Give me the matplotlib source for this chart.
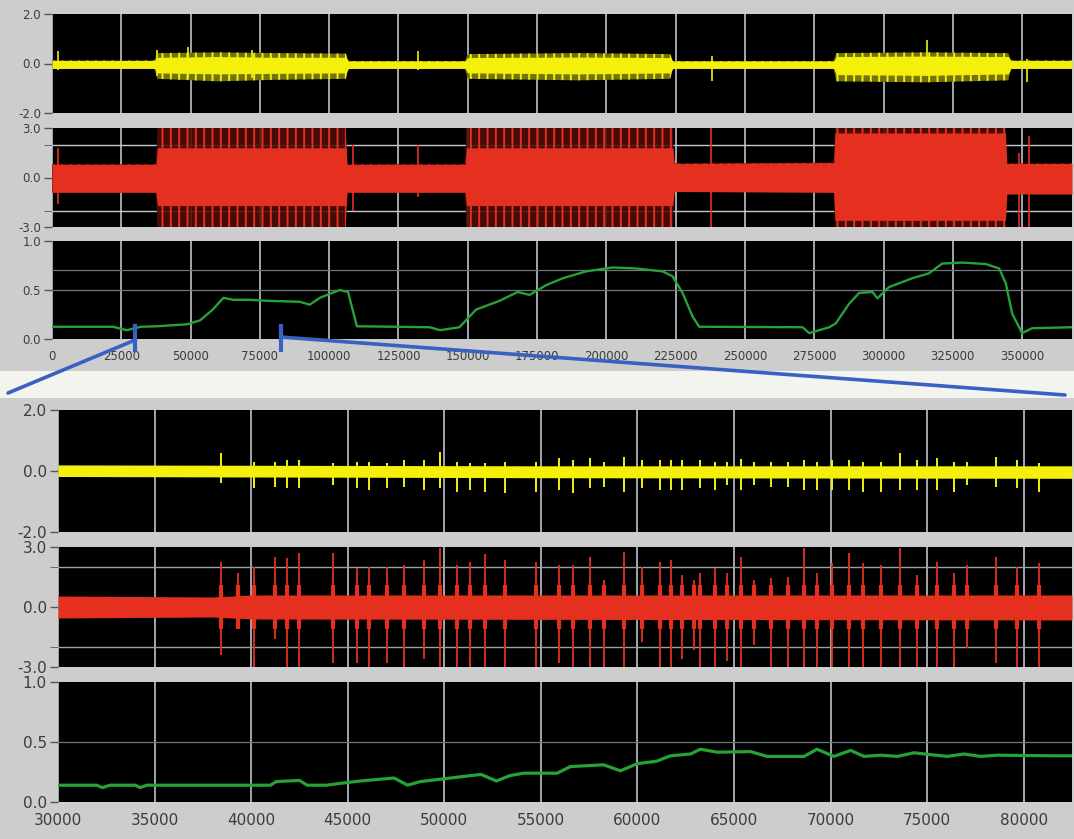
"""
Senal completa (arriba) y ampliacion de un tramo (abajo): tres trazas por grupo
"""

import matplotlib.pyplot as plt
from matplotlib.patches import Rectangle, ConnectionPatch
from matplotlib.transforms import blended_transform_factory

# ---- grupo superior: 0 .. 368000 ----
top_xticks = list(range(0, 350001, 25000))

# amarilla: envolvente exterior e interior (x, arriba, abajo)
yt_x = [0, 37000, 38000, 60000, 80000, 106000, 107000, 149000, 150000, 190000, 223000,
        224000, 282000, 283000, 315000, 345000, 346000, 368000]
yt_hi = [0.12, 0.12, 0.42, 0.45, 0.42, 0.40, 0.10, 0.10, 0.38, 0.42, 0.38,
         0.10, 0.10, 0.42, 0.45, 0.42, 0.12, 0.12]
yt_lo = [-0.2, -0.2, -0.62, -0.72, -0.66, -0.62, -0.2, -0.2, -0.62, -0.68, -0.62,
         -0.2, -0.2, -0.72, -0.76, -0.68, -0.2, -0.2]
yt_in_hi = [0.12, 0.12, 0.25, 0.28, 0.25, 0.25, 0.10, 0.10, 0.24, 0.26, 0.24,
            0.10, 0.10, 0.28, 0.30, 0.28, 0.12, 0.12]
yt_in_lo = [-0.2, -0.2, -0.38, -0.42, -0.40, -0.38, -0.2, -0.2, -0.38, -0.42, -0.38,
            -0.2, -0.2, -0.45, -0.48, -0.42, -0.2, -0.2]
yt_spk_x = [2300, 38000, 49000, 72000, 132000, 238000, 315700, 351700]
yt_spk_hi = [0.50, 0.53, 0.66, 0.53, 0.50, 0.30, 0.93, 0.20]
yt_spk_lo = [-0.25, -0.5, -0.6, -0.6, -0.25, -0.70, -0.5, -0.75]

# roja
rt_x = [0, 37500, 38000, 106000, 106500, 149000, 149500, 224000, 224500, 282000,
        282500, 344000, 344500, 368000]
rt_hi = [0.8, 0.8, 3.0, 3.0, 0.8, 0.8, 3.0, 3.0, 0.85, 0.9, 3.0, 3.0, 0.85, 0.85]
rt_lo = [-0.9, -0.9, -3.0, -3.0, -0.9, -0.9, -3.0, -3.0, -0.85, -0.9, -3.0, -3.0, -1.0, -1.0]
rt_in_hi = [0.8, 0.8, 1.8, 1.8, 0.8, 0.8, 1.8, 1.8, 0.85, 0.9, 2.7, 2.7, 0.85, 0.85]
rt_in_lo = [-0.9, -0.9, -1.7, -1.7, -0.9, -0.9, -1.7, -1.7, -0.85, -0.9, -2.6, -2.6, -1.0, -1.0]
rt_spk_x = [2000, 108500, 132000, 237700, 348800, 352400]
rt_spk_hi = [1.8, 2.0, 2.0, 3.0, 1.5, 2.5]
rt_spk_lo = [-1.6, -2.0, -1.2, -3.0, -3.0, -3.0]

# verde
gt_x = [0, 22000, 27000, 32000, 38000, 48700, 53400, 58000, 61800, 65400, 71400, 77500,
        89400, 93000, 96600, 103800, 106800, 110000, 136300, 140000, 147000, 153000,
        161500, 168000, 172300, 178300, 184300, 192700, 202300, 210700, 220300, 223900,
        227500, 231100, 233500, 270800, 273200, 280400, 282800, 287600, 291200, 296000,
        297800, 302000, 310400, 316400, 321200, 328400, 336900, 341700, 344100, 346400,
        350000, 353600, 368000]
gt_y = [0.125, 0.125, 0.09, 0.125, 0.13, 0.15, 0.19, 0.30, 0.42, 0.40, 0.40, 0.39,
        0.38, 0.35, 0.42, 0.50, 0.48, 0.13, 0.12, 0.09, 0.12, 0.30,
        0.39, 0.48, 0.45, 0.55, 0.62, 0.69, 0.73, 0.72, 0.69, 0.64,
        0.47, 0.23, 0.125, 0.12, 0.06, 0.12, 0.16, 0.36, 0.47, 0.48,
        0.415, 0.53, 0.62, 0.67, 0.77, 0.78, 0.765, 0.72, 0.57, 0.26,
        0.06, 0.11, 0.12]

# ---- grupo inferior: 30000 .. 82500 ----
bot_xticks = list(range(30000, 80001, 5000))

by_x = [30000, 55000, 82500]
by_hi = [0.20, 0.17, 0.17]
by_lo = [-0.18, -0.22, -0.24]
by_spk_x = [38430, 40150, 41240, 41850, 42490, 44230, 45470, 46080, 47030, 47890, 48930,
            49790, 50660, 51310, 52120, 53160, 54770, 55920, 56670, 57530, 58290, 59290,
            60240, 61190, 61740, 62310, 63260, 64000, 64650, 65370, 66030, 66890, 67790,
            68650, 69310, 70090, 70950, 71690, 72590, 73590, 74490, 75530, 76390, 77050,
            78550, 79670, 80790]
by_spk_hi = [0.60, 0.31, 0.31, 0.36, 0.36, 0.25, 0.31, 0.31, 0.25, 0.36, 0.36,
             0.63, 0.31, 0.25, 0.25, 0.31, 0.31, 0.42, 0.36, 0.42, 0.31, 0.47,
             0.36, 0.36, 0.36, 0.36, 0.36, 0.31, 0.31, 0.40, 0.31, 0.31, 0.31,
             0.36, 0.31, 0.36, 0.36, 0.31, 0.31, 0.60, 0.36, 0.42, 0.31, 0.31,
             0.47, 0.36, 0.25]
by_spk_lo = [-0.40, -0.57, -0.51, -0.57, -0.57, -0.46, -0.57, -0.62, -0.57, -0.51, -0.62,
             -0.57, -0.68, -0.62, -0.68, -0.73, -0.68, -0.62, -0.73, -0.57, -0.51, -0.68,
             -0.57, -0.62, -0.62, -0.62, -0.57, -0.62, -0.46, -0.62, -0.46, -0.51, -0.51,
             -0.62, -0.62, -0.62, -0.62, -0.68, -0.68, -0.62, -0.62, -0.62, -0.68, -0.46,
             -0.51, -0.57, -0.68]

br_x = [30000, 38000, 40000, 82500]
br_hi = [0.55, 0.5, 0.6, 0.6]
br_lo = [-0.55, -0.5, -0.6, -0.65]
br_spk_x = [38430, 39340, 40150, 41240, 41850, 42490, 44230, 45470, 46080, 47030, 47890,
            48930, 49790, 50660, 51310, 52120, 53160, 54770, 55920, 56670, 57530, 58290,
            59290, 60240, 61190, 61740, 62310, 62920, 63260, 64000, 64650, 65370, 66030,
            66890, 67790, 68650, 69310, 70090, 70950, 71690, 72590, 73590, 74490, 75530,
            76390, 77050, 78550, 79670, 80790]
br_spk_hi = [2.27, 1.68, 2.02, 2.52, 2.43, 2.68, 2.68, 1.93, 2.02, 2.02, 2.10,
             2.35, 2.93, 2.10, 2.27, 2.63, 2.35, 2.27, 2.10, 2.10, 2.52, 1.35,
             2.77, 2.02, 2.27, 2.35, 1.60, 1.35, 1.68, 1.93, 1.68, 2.52, 1.35,
             1.43, 1.52, 2.93, 1.68, 2.18, 2.68, 2.18, 2.10, 2.93, 1.60, 2.27,
             1.68, 2.10, 2.52, 2.02, 2.18]
br_spk_lo = [-2.4, -0.9, -3.0, -1.6, -3.0, -3.0, -2.8, -2.8, -3.0, -2.8, -3.0,
             -2.6, -3.0, -3.0, -3.0, -3.0, -3.0, -3.0, -2.8, -3.0, -3.0, -3.0,
             -3.0, -1.75, -3.0, -3.0, -2.6, -2.15, -3.0, -3.0, -2.7, -3.0, -1.9,
             -3.0, -3.0, -3.0, -3.0, -3.0, -3.0, -3.0, -3.0, -3.0, -3.0, -3.0,
             -3.0, -2.05, -2.8, -3.0, -3.0]

bg_x = [30000, 32000, 32300, 32700, 34000, 34250, 34600, 41000, 41300, 42500, 42900,
        43900, 44600, 45650, 47400, 48100, 48750, 49800, 51900, 52700, 53400, 54100,
        55840, 56530, 58250, 59120, 60000, 61000, 61700, 62750, 63260, 64130, 65850,
        66720, 68620, 69300, 70170, 71040, 71730, 72600, 73450, 74320, 76040, 76900,
        77770, 78640, 81540, 82500]
bg_y = [0.14, 0.14, 0.12, 0.14, 0.14, 0.12, 0.14, 0.14, 0.17, 0.18, 0.14,
        0.14, 0.155, 0.175, 0.20, 0.14, 0.17, 0.19, 0.23, 0.175, 0.22, 0.24,
        0.24, 0.295, 0.31, 0.26, 0.32, 0.34, 0.385, 0.40, 0.44, 0.415, 0.42,
        0.38, 0.38, 0.44, 0.38, 0.43, 0.38, 0.39, 0.38, 0.41, 0.38, 0.40,
        0.38, 0.39, 0.385, 0.385]

YEL = '#f4f00c'
RED = '#e5301f'
GRN = '#26a236'
GRID_V = '#ccd4dc'
TXT = '#3c3c3c'

plt.rcParams['hatch.linewidth'] = 1.4


def panel(fig, rect, xlim, xticks, ylim, yticks, ylabels, size, show_x):
    ax = fig.add_axes(rect, facecolor='black')
    ax.set_xlim(xlim)
    ax.set_ylim(ylim)
    ax.set_xticks(xticks)
    ax.set_yticks(yticks)
    ax.set_yticklabels(ylabels)
    ax.grid(axis='x', color=GRID_V, lw=1.1, zorder=1)
    ax.set_axisbelow(True)
    for s in ax.spines.values():
        s.set_visible(False)
    ax.tick_params(axis='y', length=6, width=1, color='#555555', pad=2,
                   labelsize=size, labelcolor=TXT)
    ax.tick_params(axis='x', length=0, pad=8, labelsize=size, labelcolor=TXT)
    if not show_x:
        ax.set_xticklabels([])
    return ax


def main():
    fig = plt.figure(figsize=(10.74, 8.39), dpi=100, facecolor='#cdcdcd')
    fig.add_artist(Rectangle((0, 1 - 398 / 839), 1, 27 / 839, transform=fig.transFigure,
                             facecolor='#f4f4ee', edgecolor='none', zorder=-5))

    # ---- grupo superior ----
    L, W = 52 / 1074, 1020 / 1074
    txl = (0, 368000)
    ax1 = panel(fig, [L, 1 - 113 / 839, W, 99 / 839], txl, top_xticks, (-2, 2),
                [-2, 0, 2], ['-2.0', '0.0', '2.0'], 8.5, False)
    ax1.fill_between(yt_x, yt_lo, yt_hi, facecolor=(0.45, 0.45, 0.04), edgecolor=YEL,
                     hatch='||', lw=0, zorder=2)
    ax1.fill_between(yt_x, yt_in_lo, yt_in_hi, color=YEL, lw=0, zorder=3)
    ax1.vlines(yt_spk_x, yt_spk_lo, yt_spk_hi, color=YEL, lw=1.2, zorder=3)

    ax2 = panel(fig, [L, 1 - 227 / 839, W, 99 / 839], txl, top_xticks, (-3, 3),
                [-3, 0, 3], ['-3.0', '0.0', '3.0'], 8.5, False)
    ax2.set_yticks([-2, 2], minor=True)
    ax2.tick_params(axis='y', which='minor', length=6, color='#555555')
    for v in (-2, 2):
        ax2.axhline(v, color='#c4c8ce', lw=1, zorder=1)
    ax2.fill_between(rt_x, rt_lo, rt_hi, facecolor=(0.3, 0.05, 0.03, 0.9), edgecolor=RED,
                     hatch='||', lw=0, zorder=2)
    ax2.fill_between(rt_x, rt_in_lo, rt_in_hi, color=RED, lw=0, zorder=3)
    ax2.vlines(rt_spk_x, rt_spk_lo, rt_spk_hi, color=RED, lw=1.2, zorder=3)

    ax3 = panel(fig, [L, 1 - 339 / 839, W, 98 / 839], txl, top_xticks, (0, 1),
                [0, 0.5, 1], ['0.0', '0.5', '1.0'], 8.5, True)
    for v in (0.5, 0.7):
        ax3.axhline(v, color='#6c747e', lw=0.9, zorder=1)
    ax3.plot(gt_x, gt_y, color=GRN, lw=1.7, zorder=3)
    ax3.set_xticklabels([str(t) for t in top_xticks])

    # ---- grupo inferior ----
    L2, W2 = 58 / 1074, 1014 / 1074
    bxl = (30000, 82500)
    ax4 = panel(fig, [L2, 1 - 532 / 839, W2, 122 / 839], bxl, bot_xticks, (-2, 2),
                [-2, 0, 2], ['-2.0', '0.0', '2.0'], 11, False)
    ax4.fill_between(by_x, by_lo, by_hi, color=YEL, lw=0, zorder=2)
    ax4.vlines(by_spk_x, by_spk_lo, by_spk_hi, color=YEL, lw=1.4, zorder=3)

    ax5 = panel(fig, [L2, 1 - 667 / 839, W2, 120 / 839], bxl, bot_xticks, (-3, 3),
                [-3, 0, 3], ['-3.0', '0.0', '3.0'], 11, False)
    ax5.set_yticks([-2, 2], minor=True)
    ax5.tick_params(axis='y', which='minor', length=6, color='#555555')
    for v in (-2, 2):
        ax5.axhline(v, color='#9aa0a8', lw=1, zorder=1)
    ax5.fill_between(br_x, br_lo, br_hi, color=RED, lw=0, zorder=2)
    ax5.vlines(br_spk_x, -1.1, 1.1, color=RED, lw=3, zorder=3)
    ax5.vlines(br_spk_x, br_spk_lo, br_spk_hi, color=RED, lw=1.3, zorder=3)

    ax6 = panel(fig, [L2, 1 - 802 / 839, W2, 120 / 839], bxl, bot_xticks, (0, 1),
                [0, 0.5, 1], ['0.0', '0.5', '1.0'], 11, True)
    ax6.axhline(0.5, color='#6c747e', lw=0.9, zorder=1)
    ax6.plot(bg_x, bg_y, color=GRN, lw=2.3, zorder=3)
    ax6.set_xticklabels([str(t) for t in bot_xticks])

    # ---- marcas azules y lineas de union ----
    BLUE = '#3a60c4'
    tr = blended_transform_factory(ax3.transData, ax3.transAxes)
    for xm in bxl:
        ax3.plot([xm, xm], [-0.11, 0.13], color=BLUE, lw=3, transform=tr,
                 clip_on=False, zorder=6)
    for xm, ya, pt in [(bxl[0], -0.01, (8 / 1074, 1 - 393 / 839)),
                       (bxl[1], 0.02, (1065 / 1074, 1 - 395 / 839))]:
        con = ConnectionPatch(xyA=(xm, ya), coordsA=tr, xyB=pt, coordsB=fig.transFigure,
                              color=BLUE, lw=2.6, zorder=6)
        fig.add_artist(con)

    fig.savefig('out.png', dpi=100, facecolor=fig.get_facecolor())


if __name__ == "__main__":
    main()
